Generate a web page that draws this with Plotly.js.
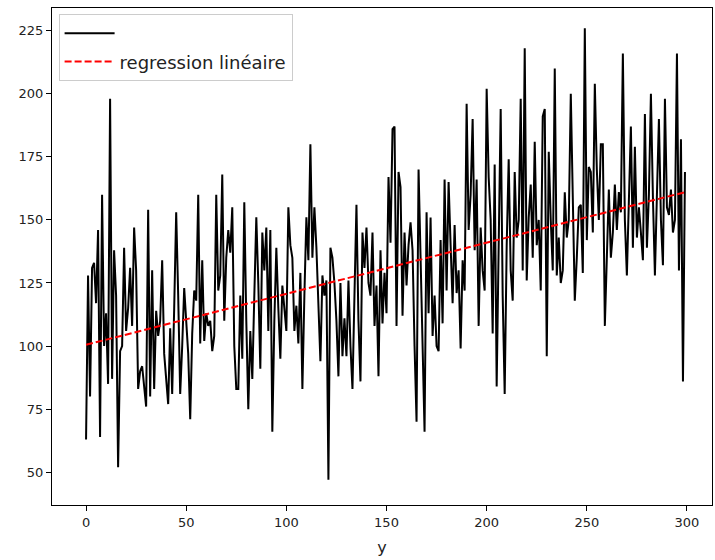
<!DOCTYPE html>
<html>
<head>
<meta charset="utf-8">
<script src="https://cdn.plot.ly/plotly-3.0.1.min.js"></script>
<style>html,body{margin:0;padding:0;background:#fff}#chart{width:715px;height:560px}</style>
</head>
<body>
<div id="chart"></div>
<script>
// series values (index 0..299)
const values = [
63,128,80,131,133,117,146,64,160,100,113,85,198,87,138,120,52,98,100,139,106,115,131,108,
147,130,83,90,92,85,76,154,80,130,83,114,104,110,134,97,85,77,107,81,115,153,120,81,100,123,
110,97,71,105,122,118,160,101,134,102,113,108,110,98,104,160,122,128,168,110,135,146,137,155,100,83,
83,120,95,157,110,75,106,87,120,151,125,91,145,130,147,106,146,66,110,139,115,95,124,115,106,155,
140,135,106,116,101,129,83,120,151,134,180,135,155,139,120,94,128,120,126,47,139,135,125,110,88,125,
96,111,96,126,100,83,120,156,110,86,145,131,147,125,120,145,108,124,88,138,109,129,113,167,141,186,
187,108,169,163,112,145,124,140,149,138,100,70,170,134,110,66,153,113,151,104,120,100,98,142,109,166,
122,165,140,117,148,121,130,99,134,122,196,146,160,190,138,166,108,147,130,122,202,167,150,105,172,84,
140,194,120,81,140,174,130,118,169,143,150,198,130,218,126,151,164,135,181,140,150,122,191,194,96,177,
150,130,210,128,143,125,130,161,143,150,200,150,118,135,155,156,129,226,142,171,169,145,204,170,150,180,
180,108,140,162,135,145,164,146,161,153,216,150,128,160,187,139,179,143,155,145,134,192,139,160,200,159,
128,160,190,150,132,198,155,152,162,145,150,216,130,182,86,169
];
const xIndex = values.map((v, i) => i);
// regression line end points
const regX = [0, 299];
const regY = [100.5, 161];
const regName = "regression linéaire";
const xTicks = [0, 50, 100, 150, 200, 250, 300];
const yTicks = [50, 75, 100, 125, 150, 175, 200, 225];

const traces = [
  {x: xIndex, y: values, type: 'scatter', mode: 'lines', name: '', legendgroup: 'a',
   line: {color: '#000000', width: 2}},
  {x: regX, y: regY, type: 'scatter', mode: 'lines', name: regName, legendgroup: 'b',
   line: {color: '#ff0000', width: 2, dash: '7px,3px'}}
];
const axisCommon = {
  showline: true, mirror: true, linecolor: '#000', linewidth: 1,
  showgrid: false, zeroline: false, ticks: 'outside', ticklen: 5,
  tickcolor: '#000', tickwidth: 1,
  tickfont: {family: 'DejaVu Sans', size: 13, color: '#222'}
};
const layout = {
  width: 715, height: 560,
  margin: {l: 52, r: 3, t: 8, b: 55},
  paper_bgcolor: '#fff', plot_bgcolor: '#fff',
  font: {family: 'DejaVu Sans', size: 13, color: '#222'},
  xaxis: Object.assign({}, axisCommon, {
    range: [-17, 312.5], tickvals: xTicks, ticktext: xTicks.map(String),
    title: {text: 'y', font: {family: 'DejaVu Sans', size: 16, color: '#222'}, standoff: 13}
  }),
  yaxis: Object.assign({}, axisCommon, {
    range: [37, 234], tickvals: yTicks, ticktext: yTicks.map(String)
  }),
  showlegend: true,
  legend: {x: 0.01, y: 0.988, xanchor: 'left', yanchor: 'top',
    bgcolor: 'rgba(255,255,255,0.85)', bordercolor: '#cccccc', borderwidth: 1,
    tracegroupgap: 2, itemwidth: 50,
    font: {family: 'DejaVu Sans', size: 18, color: '#222'}}
};
Plotly.newPlot('chart', traces, layout, {displayModeBar: false, staticPlot: true});
</script>
</body>
</html>
